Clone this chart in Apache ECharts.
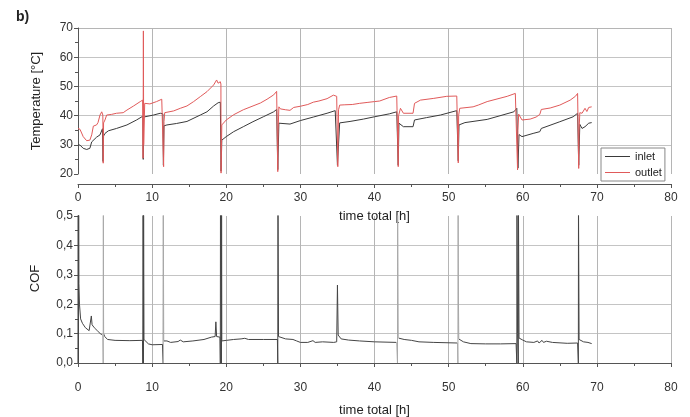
<!DOCTYPE html>
<html>
<head>
<meta charset="utf-8">
<script src="https://cdn.jsdelivr.net/npm/echarts@6/dist/echarts.min.js"></script>
<style>html,body{margin:0;padding:0;background:#fff}#c{width:690px;height:417px}</style>
</head>
<body>
<div id="c"></div>
<script>
// ---- data ----
const xTicks = [0, 10, 20, 30, 40, 50, 60, 70, 80];
const tempTicks = [20, 30, 40, 50, 60, 70];
const cofTicks = [0.0, 0.1, 0.2, 0.3, 0.4, 0.5];

const outletX = [0, 0.27, 0.7, 1.17, 1.6, 1.85, 2.07, 2.5, 2.7, 2.97, 3.2, 3.35, 3.4, 3.45, 3.64, 3.87, 4.5, 5.2, 6.1, 6.6, 7.5, 8.4, 8.72, 8.78, 8.82, 8.86, 9.0, 9.7, 10.6, 11.3, 11.5, 11.55, 11.6, 11.7, 12.9, 13.8, 14.7, 15.6, 16.5, 17.4, 18.3, 18.7, 18.9, 19.2, 19.28, 19.3, 19.4, 20.0, 21.0, 22.3, 23.2, 24.6, 25.5, 26.4, 26.8, 26.9, 26.95, 27.0, 27.1, 27.3, 28.0, 28.6, 29.1, 30.0, 31.0, 31.75, 32.5, 33.6, 34.45, 34.9, 35.0, 35.05, 35.15, 35.3, 36.0, 37.0, 38.0, 39.0, 40.0, 40.7, 40.9, 42.0, 43.0, 43.1, 43.2, 43.25, 43.5, 43.9, 45.2, 45.4, 46.2, 48.0, 49.75, 51.1, 51.2, 51.3, 51.35, 51.5, 53.3, 53.5, 54.0, 55.2, 57.9, 59.0, 59.2, 59.3, 59.35, 59.45, 59.9, 61.0, 61.8, 62.3, 62.5, 63.7, 65.0, 66.4, 67.1, 67.4, 67.5, 67.55, 67.6, 67.7, 68.0, 68.4, 68.65, 68.9, 69.3];
const outletT = [35.6, 35.3, 32.8, 31.4, 31.6, 33.4, 36.4, 36.8, 37.6, 40.2, 41.3, 40.2, 23.7, 37.5, 38.5, 40.2, 40.4, 40.8, 41.0, 41.9, 43.3, 44.8, 45.3, 25.4, 69.0, 30.0, 44.2, 44.0, 44.8, 45.6, 45.4, 22.5, 38.0, 41.0, 41.6, 42.5, 43.3, 44.8, 46.5, 48.2, 50.5, 52.2, 51.1, 51.6, 50.8, 20.3, 36.8, 38.5, 40.3, 42.0, 42.9, 44.3, 45.6, 47.1, 48.3, 48.5, 20.8, 35.0, 43.0, 42.3, 42.0, 41.8, 42.8, 43.2, 43.8, 44.6, 45.0, 45.8, 47.0, 46.6, 46.4, 22.5, 42.0, 43.6, 43.7, 43.8, 44.2, 44.5, 44.8, 45.0, 45.6, 46.2, 46.7, 46.5, 22.5, 40.0, 42.5, 40.8, 40.8, 44.2, 45.3, 45.9, 46.6, 46.7, 46.5, 23.8, 40.0, 42.5, 43.0, 43.6, 43.6, 44.8, 46.6, 47.6, 47.8, 21.4, 35.0, 40.5, 38.5, 38.8, 39.5, 40.4, 42.1, 42.6, 43.6, 45.3, 46.6, 47.6, 47.0, 21.9, 35.0, 41.0, 40.8, 42.5, 41.4, 42.8, 43.0];

const inletX = [0, 0.05, 0.27, 0.7, 1.17, 1.6, 1.85, 2.07, 2.5, 2.97, 3.3, 3.38, 3.45, 3.64, 4.1, 5.2, 6.6, 7.9, 8.75, 8.8, 8.85, 10.2, 11.1, 11.45, 11.52, 11.6, 12.0, 13.3, 14.7, 16.5, 17.4, 18.3, 18.9, 19.2, 19.3, 19.4, 20.0, 21.0, 22.3, 23.6, 25.0, 26.4, 26.8, 26.95, 27.1, 28.6, 30.0, 31.75, 33.6, 34.7, 35.0, 35.3, 36.7, 38.5, 40.0, 42.0, 43.0, 43.15, 43.2, 43.3, 43.9, 45.2, 45.4, 47.0, 48.9, 51.1, 51.3, 51.4, 52.2, 55.2, 58.8, 59.2, 59.35, 59.5, 59.9, 61.4, 62.3, 62.5, 65.0, 66.8, 67.4, 67.55, 67.7, 68.0, 68.4, 68.9, 69.3];
const inletT = [30.0, 30.5, 29.9, 28.8, 28.4, 28.8, 31.0, 31.6, 32.6, 33.4, 35.5, 24.3, 33.0, 33.9, 34.8, 35.6, 36.8, 38.5, 39.8, 25.0, 39.5, 40.2, 40.8, 40.6, 23.0, 36.5, 36.8, 37.3, 38.0, 40.2, 41.3, 43.3, 44.4, 44.6, 21.0, 31.6, 32.8, 34.5, 36.2, 37.9, 39.6, 41.3, 42.1, 21.5, 37.4, 37.1, 38.3, 39.5, 40.8, 41.7, 23.0, 37.5, 38.0, 38.8, 39.6, 40.6, 41.3, 41.0, 23.0, 37.4, 36.2, 36.2, 38.5, 39.3, 40.2, 41.7, 24.5, 36.8, 37.6, 38.7, 41.3, 42.5, 22.0, 33.5, 32.8, 33.9, 34.5, 35.6, 37.9, 39.6, 40.8, 23.0, 37.0, 35.6, 36.2, 37.4, 37.6];

const cofX = [0, 0.03, 0.06, 0.09, 0.12, 0.2, 0.35, 0.6, 1.0, 1.5, 1.7, 1.8, 1.9, 2.2, 2.6, 3.0, 3.35, 3.4, 3.42, 3.45, 3.6, 4.0, 5, 7, 8.7, 8.75, 8.78, 8.82, 8.85, 8.9, 9.5, 10, 11.4, 11.5, 11.52, 11.55, 12.0, 12.5, 13.5, 13.8, 14.2, 15.5, 17, 18, 18.5, 18.6, 18.7, 19.15, 19.2, 19.22, 19.35, 19.37, 19.4, 20, 21, 22, 22.5, 23, 25, 26.9, 26.95, 26.98, 27.05, 27.3, 28, 29, 29.5, 30, 31, 31.7, 32, 33, 34.5, 34.9, 35.0, 35.1, 35.5, 36.5, 38, 40, 43, 43.1, 43.12, 43.2, 44, 45, 46, 48, 51.2, 51.25, 51.28, 51.35, 52, 53, 55, 57, 59.1, 59.2, 59.22, 59.3, 59.4, 59.42, 59.5, 60, 60.5, 61.5, 62, 62.2, 62.6, 62.8, 63.2, 64, 66, 67.4, 67.5, 67.52, 67.6, 67.8, 68.2, 68.8, 69.3];
const cofV = [0.0, 0.55, 0.0, 0.55, 0.27, 0.2, 0.15, 0.135, 0.12, 0.11, 0.115, 0.16, 0.13, 0.12, 0.11, 0.1, 0.095, 0.0, 0.55, 0.1, 0.09, 0.08, 0.077, 0.076, 0.077, 0.0, 0.55, 0.0, 0.55, 0.08, 0.065, 0.062, 0.063, 0.0, 0.55, 0.075, 0.075, 0.07, 0.073, 0.078, 0.072, 0.075, 0.08, 0.088, 0.09, 0.14, 0.09, 0.088, 0.0, 0.55, 0.0, 0.55, 0.075, 0.077, 0.08, 0.082, 0.084, 0.08, 0.08, 0.08, 0.0, 0.55, 0.09, 0.085, 0.082, 0.08, 0.075, 0.07, 0.07, 0.076, 0.07, 0.072, 0.07, 0.072, 0.265, 0.095, 0.082, 0.078, 0.075, 0.072, 0.07, 0.0, 0.55, 0.085, 0.08, 0.077, 0.072, 0.07, 0.068, 0.0, 0.55, 0.082, 0.072, 0.066, 0.065, 0.065, 0.066, 0.0, 0.55, 0.1, 0.0, 0.55, 0.085, 0.078, 0.072, 0.07, 0.075, 0.068, 0.077, 0.07, 0.074, 0.07, 0.067, 0.068, 0.0, 0.55, 0.08, 0.078, 0.072, 0.07, 0.066];

// x-ranges where the COF restart spikes are drawn faint
const faintSpikes = [[3.3, 3.5], [11.42, 11.6], [42.95, 43.25], [51.15, 51.35]];

// ---- build ----
const zip = (xs, ys) => xs.map((x, i) => [x, ys[i]]);
const T = 'rgba(0,0,0,0)';
const gridCol = '#c4c4c4';
const axisCol = '#555';
const FONT = 'Liberation Sans, Arial, sans-serif';
const lblStyle = { color: '#333', fontSize: 12, fontFamily: FONT };
const nameStyle = { color: '#222', fontSize: 13, fontFamily: FONT };

function xAxis(gi, gap, margin) {
  return {
    type: 'value', gridIndex: gi, min: xTicks[0], max: xTicks[xTicks.length - 1], interval: xTicks[1] - xTicks[0],
    offset: 10,
    name: 'time total [h]', nameLocation: 'middle', nameGap: gap, nameTextStyle: nameStyle,
    axisLine: { show: true, lineStyle: { color: axisCol, width: 1 } },
    axisTick: { show: true, length: 4, lineStyle: { color: axisCol } },
    minorTick: { show: true, splitNumber: 2, length: 3, lineStyle: { color: axisCol } },
    axisLabel: Object.assign({ margin: margin }, lblStyle),
    splitLine: { show: true, lineStyle: { color: [T].concat(xTicks.slice(1).map(() => '#b5b5b5')), width: 1 } }
  };
}

const chart = echarts.init(document.getElementById('c'), null, { renderer: 'canvas' });
chart.setOption({
  animation: false,
  backgroundColor: '#fff',
  title: { text: 'b)', left: 11, top: 5, textStyle: { fontSize: 14, fontWeight: 'bold', color: '#222', fontFamily: FONT } },
  grid: [
    { left: 78, right: 19, top: 28, height: 146, outerBoundsMode: 'none', containLabel: false },
    { left: 78, right: 19, top: 216, height: 147, outerBoundsMode: 'none', containLabel: false }
  ],
  legend: {
    data: ['inlet', 'outlet'], orient: 'vertical', left: 601, top: 148,
    icon: 'rect', itemWidth: 25, itemHeight: 1, itemGap: 5,
    borderColor: '#888', borderWidth: 1, padding: [3, 3, 3, 4],
    textStyle: { fontSize: 11, color: '#222', fontFamily: FONT }
  },
  visualMap: {
    type: 'piecewise', show: false, seriesIndex: 2, dimension: 0,
    pieces: faintSpikes.map(r => ({ gte: r[0], lte: r[1], color: '#a8a8a8' })),
    outOfRange: { color: '#444' }
  },
  xAxis: [xAxis(0, 26, 8), xAxis(1, 31, 9)],
  yAxis: [
    {
      type: 'value', gridIndex: 0, min: tempTicks[0], max: tempTicks[tempTicks.length - 1], interval: tempTicks[1] - tempTicks[0],
      name: 'Temperature [°C]', nameLocation: 'middle', nameGap: 35, nameTextStyle: nameStyle,
      axisLine: { show: true, lineStyle: { color: axisCol } },
      axisTick: { show: true, length: 4, lineStyle: { color: axisCol } },
      minorTick: { show: true, splitNumber: 2, length: 3, lineStyle: { color: axisCol } },
      axisLabel: Object.assign({ margin: 5 }, lblStyle),
      splitLine: { show: true, lineStyle: { color: [T, gridCol, gridCol, gridCol, gridCol, '#b5b5b5'] } }
    },
    {
      type: 'value', gridIndex: 1, min: cofTicks[0], max: cofTicks[cofTicks.length - 1], interval: 0.1,
      name: 'COF', nameLocation: 'middle', nameGap: 36, nameTextStyle: Object.assign({ padding: [0, 0, 0, 22] }, nameStyle),
      axisLine: { show: true, lineStyle: { color: axisCol } },
      axisTick: { show: true, length: 4, lineStyle: { color: axisCol } },
      minorTick: { show: true, splitNumber: 2, length: 3, lineStyle: { color: axisCol } },
      axisLabel: Object.assign({ margin: 5, formatter: v => v.toFixed(1).replace('.', ',') }, lblStyle),
      splitLine: { show: true, lineStyle: { color: [T, gridCol, gridCol, gridCol, gridCol, T] } }
    }
  ],
  series: [
    { name: 'inlet', type: 'line', xAxisIndex: 0, yAxisIndex: 0, data: zip(inletX, inletT), symbol: 'none', lineStyle: { color: '#3a3a3a', width: 1 }, itemStyle: { color: '#3a3a3a' }, clip: true },
    { name: 'outlet', type: 'line', xAxisIndex: 0, yAxisIndex: 0, data: zip(outletX, outletT), symbol: 'none', lineStyle: { color: '#e05a5a', width: 1 }, itemStyle: { color: '#e05a5a' }, clip: true },
    { name: 'COF', type: 'line', xAxisIndex: 1, yAxisIndex: 1, data: zip(cofX, cofV), symbol: 'none', lineStyle: { width: 1 }, clip: true }
  ]
});
</script>
</body>
</html>
